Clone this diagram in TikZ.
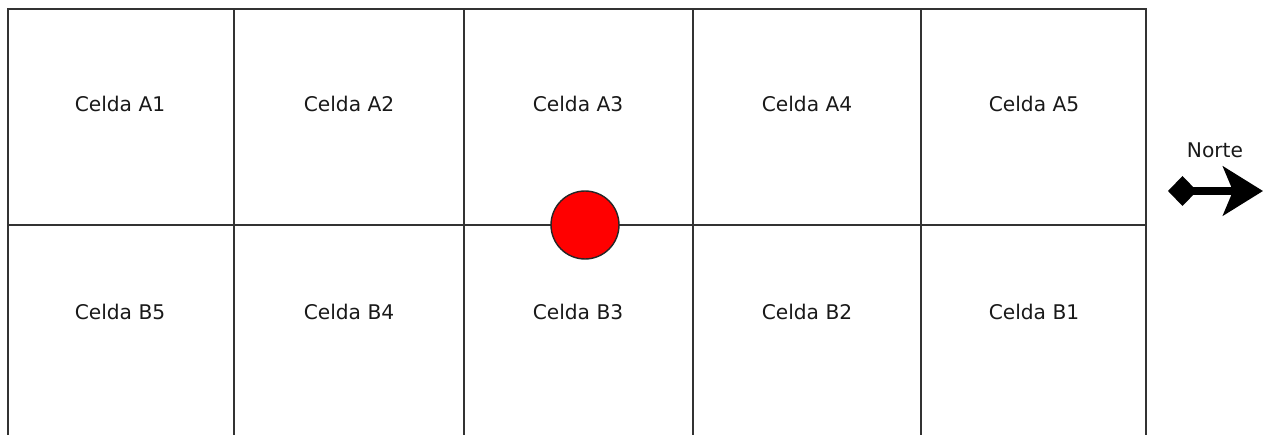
\documentclass[tikz,border=0pt]{standalone}
\usepackage{fontspec}
\setmainfont{DejaVu Sans}
\usetikzlibrary{arrows.meta}
\begin{document}
\begin{tikzpicture}[x=0.02cm,y=-0.02cm,
  rejilla/.style={line width=1.1pt,draw=black!80},
  celda/.style={font=\fontsize{11.5}{14}\selectfont,text=black!90},
  robot/.style={circle,fill=red,draw=black!85,line width=0.8pt,minimum size=1.36cm,inner sep=0pt}]
\useasboundingbox (0,0) rectangle (1264,435);
\draw [rejilla] (8,435)--(8,9)--(1146,9)--(1146,435);
\draw [rejilla] (8,225)--(1146,225);
\draw [rejilla] (234,9)--(234,435);
\draw [rejilla] (464,9)--(464,435);
\draw [rejilla] (693,9)--(693,435);
\draw [rejilla] (921,9)--(921,435);

\node [celda] (a1) at (120,104) {Celda A1};
\node [celda] (a2) at (349,104) {Celda A2};
\node [celda] (a3) at (578,104) {Celda A3};
\node [celda] (a4) at (807,104) {Celda A4};
\node [celda] (a5) at (1034,104) {Celda A5};

\node [celda] (b5) at (120,312) {Celda B5};
\node [celda] (b4) at (349,312) {Celda B4};
\node [celda] (b3) at (578,312) {Celda B3};
\node [celda] (b2) at (807,312) {Celda B2};
\node [celda] (b1) at (1034,312) {Celda B1};

\node [robot] (punto) at (585,225) {};

\node [celda] (norte) at (1215,150) {Norte};
\coordinate (base) at (1168,191);
\coordinate (punta) at (1263,191);
\draw [line width=4.4pt,{Diamond[length=0.58cm,width=0.6cm]}-{Stealth[length=0.8cm,width=0.98cm,inset=0.2cm]}] (base)--(punta);
\end{tikzpicture}
\end{document}
